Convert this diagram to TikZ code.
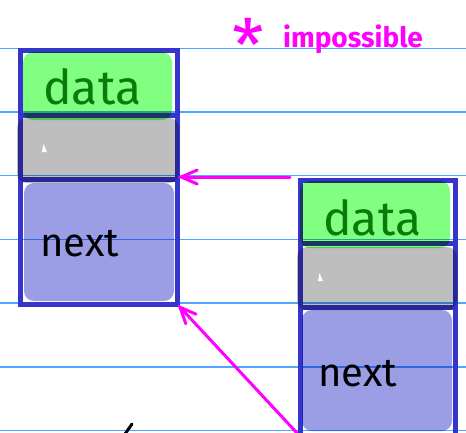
\documentclass[tikz,border=0pt]{standalone}
\usepackage{fontspec}
\setmainfont{Fira Sans}
\usetikzlibrary{arrows.meta}
\definecolor{rulecol}{HTML}{4DA6FF}
\definecolor{boxblue}{HTML}{3535CC}
\definecolor{datagreen}{HTML}{80FF80}
\definecolor{datatext}{HTML}{0A7A0A}
\definecolor{slotgray}{HTML}{BEBEBE}
\definecolor{nextfill}{HTML}{9B9EE4}
\definecolor{pen}{HTML}{FF00FF}
\begin{document}
\begin{tikzpicture}[x=1pt,y=-1pt,
  rule/.style={draw=rulecol, line width=1.5pt},
  cell/.style={draw=boxblue, line width=5pt, rectangle, inner sep=0pt, outer sep=0pt},
  blob/.style={rounded corners=10pt},
  arr/.style={draw=pen, line width=3pt, line cap=round,
    -{Straight Barb[length=16pt,width=14pt,line cap=round]}},
  datatxt/.style={text=datatext, inner sep=0pt, font=\fontsize{48}{48}\selectfont},
  nexttxt/.style={text=black, inner sep=0pt, font=\fontsize{40}{40}\selectfont},
  pentxt/.style={text=pen, inner sep=0pt}
]
\clip (0,0) rectangle (466,432);
% ruled notebook lines
\foreach \yy in {48.3,112,175.7,239.4,303.1,366.8,430.5}
  \draw[rule] (0,\yy) -- (466,\yy);

% box 1 cells
\node[cell, minimum width=157pt, minimum height=65pt] (b1d) at (99,82.5) {};
\node[cell, minimum width=157pt, minimum height=64pt] (b1g) at (99,147) {};
\node[cell, minimum width=157pt, minimum height=125.5pt] (b1n) at (99,241.75) {};
% box 2 cells
\node[cell, minimum width=155pt, minimum height=63pt] (b2d) at (377.5,211.5) {};
\node[cell, minimum width=155pt, minimum height=64pt] (b2g) at (377.5,275) {};
\node[cell, minimum width=155pt, minimum height=133pt] (b2n) at (377.5,373.5) {};

% highlighter fills
\begin{scope}[blend mode=multiply]
  \fill[datagreen, blob] (23,52) rectangle (172,120);
  \fill[slotgray, blob] (17,118) rectangle (179,183);
  \fill[nextfill, blob] (24,183) rectangle (174,301);
  \fill[datagreen, blob] (300,181) rectangle (450,248);
  \fill[slotgray, blob] (297,247) rectangle (457,310);
  \fill[nextfill, blob] (302,310) rectangle (452,431);
\end{scope}
\fill[white] (42,152) -- (47,152) -- (43.5,144) -- cycle;
\fill[white] (318,281) -- (323,281) -- (319.5,273) -- cycle;

% labels
\node[datatxt, anchor=base west] (t1d) at (43,104) {data};
\node[datatxt, anchor=base west] (t2d) at (323,235) {data};
\node[nexttxt, anchor=base west] (t1n) at (40,256) {next};
\node[nexttxt, anchor=base west] (t2n) at (318,386) {next};

% note
\node[pentxt, anchor=base, font=\fontsize{72}{72}\selectfont] (star) at (248,71) {*};
\node[pentxt, anchor=base west, font=\bfseries\fontsize{28}{28}\selectfont] (note) at (283,47) {impossible};

% arrows
\coordinate (a1s) at (290,177);
\coordinate (a2s) at (297,433);
\draw[arr] (a1s) -- (a1s -| b1n.east);
\draw[arr] (a2s) -- (b1n.south east);

% cut-off pen stroke at the bottom
\draw[black, line width=3pt, line cap=round] (125,434) -- (132,424);
\end{tikzpicture}
\end{document}
